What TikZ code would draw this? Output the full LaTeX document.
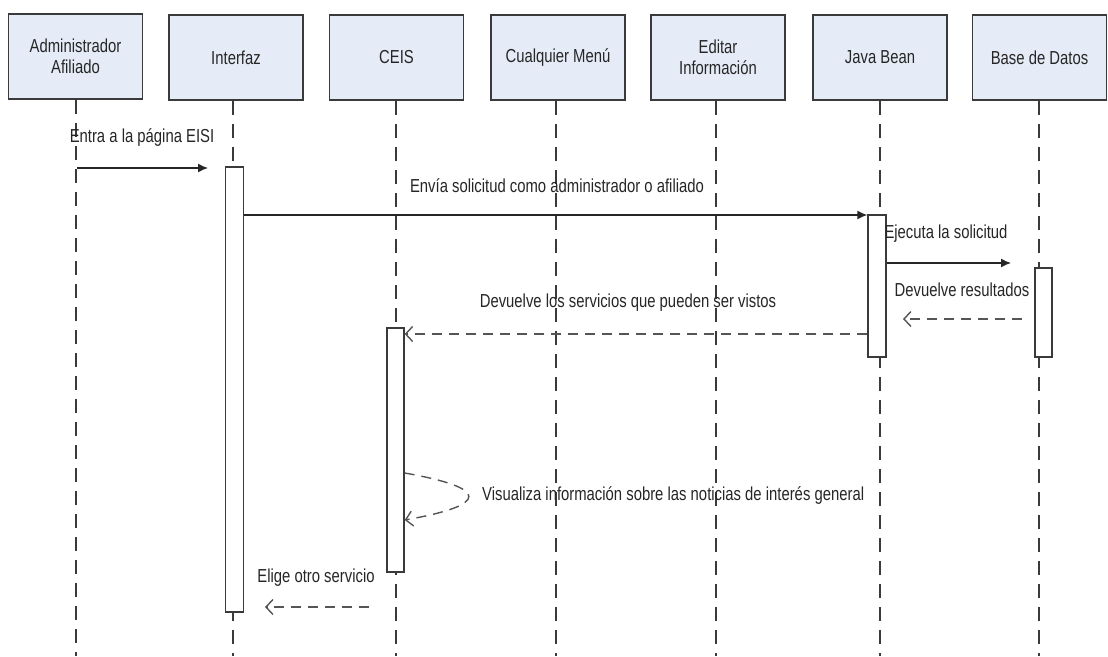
\documentclass[tikz,border=0pt]{standalone}
\usepackage{fontspec}
\setmainfont{Liberation Sans}[FakeStretch=0.79]
\usetikzlibrary{arrows.meta}
\definecolor{boxfill}{HTML}{E6ECF7}
\definecolor{boxline}{HTML}{3A3A3A}
\definecolor{txt}{HTML}{262626}
\definecolor{ret}{HTML}{555555}
\tikzset{
  head/.style={draw=boxline, line width=1.7pt, fill=boxfill, minimum width=134pt, minimum height=85pt, align=center, text=txt, inner sep=2pt, font=\fontsize{18.8}{21}\selectfont},
  life/.style={draw=boxline, line width=1.3pt, dash pattern=on 14pt off 9pt},
  actbox/.style={draw=boxline, fill=white, line width=1.3pt, minimum width=18pt, inner sep=0pt},
  lbl/.style={text=txt, inner sep=0pt, font=\fontsize{18.8}{21}\selectfont},
  callmsg/.style={draw=black!85, line width=1.4pt, -{Latex[length=10pt,width=9pt]}},
  retmsg/.style={draw=ret, line width=1.4pt, dash pattern=on 10pt off 7pt, -{Straight Barb[length=7pt,width=15pt,line width=1.4pt]}}
}
\begin{document}
\begin{tikzpicture}[x=1pt,y=-1pt]
\useasboundingbox (0,0) rectangle (1108,656);
\fill[white] (0,0) rectangle (1108,656);
% headers
\node[head] (h1) at (75.5,56.5) {Administrador\\Afiliado};
\node[head] (h2) at (236,57.5) {Interfaz};
\node[head] (h3) at (396.5,57.5) {CEIS};
\node[head] (h4) at (558,57.5) {Cualquier Menú};
\node[head] (h5) at (718,57.5) {Editar\\Información};
\node[head] (h6) at (880,57.5) {Java Bean};
\node[head] (h7) at (1039.5,57.5) {Base de Datos};
% lifeline ends
\coordinate (e1) at (76,656);
\coordinate (e2) at (233,656);
\coordinate (e3) at (396,656);
\coordinate (e4) at (556,656);
\coordinate (e5) at (716,656);
\coordinate (e6) at (880,656);
\coordinate (e7) at (1039,656);
\coordinate (s1) at (76,100);
\coordinate (s2) at (233,101);
\coordinate (s3) at (396,101);
\coordinate (s4) at (556,101);
\coordinate (s5) at (716,101);
\coordinate (s6) at (880,101);
\coordinate (s7) at (1039,101);
\foreach \i in {1,...,7} {\draw[life] (s\i) -- (e\i);}
% activation boxes
\node[actbox, minimum height=445pt] (aI) at (234.5,389.5) {};
\node[actbox, minimum height=244pt, minimum width=17pt] (aC) at (395.5,450) {};
\node[actbox, minimum height=142pt] (aJ) at (877,286) {};
\node[actbox, minimum height=89pt, minimum width=17pt] (aB) at (1043.5,312.5) {};
% messages
\coordinate (m1s) at (77,168);
\coordinate (m1e) at (208,168);
\draw[callmsg] (m1s) -- (m1e);
\node[lbl] (l1) at (142,138) {Entra a la página EISI};

\coordinate (m2s) at (aI.east |- 0,215);
\coordinate (m2e) at (aJ.west |- 0,215);
\draw[callmsg] (m2s) -- (m2e);
\node[lbl] (l2) at (557,186) {Envía solicitud como administrador o afiliado};

\coordinate (m3s) at (aJ.east |- 0,263);
\coordinate (m3e) at (1011,263);
\draw[callmsg] (m3s) -- (m3e);
\node[lbl] (l3) at (946,234) {Ejecuta la solicitud};

\coordinate (m4s) at (1022,319);
\coordinate (m4e) at (903,319);
\draw[retmsg] (m4s) -- (m4e);
\node[lbl] (l4) at (962,290) {Devuelve resultados};

\coordinate (m5s) at (aJ.west |- 0,334);
\coordinate (m5e) at (aC.east |- 0,334);
\draw[retmsg] (m5s) -- (m5e);
\node[lbl] (l5) at (628,303) {Devuelve los servicios que pueden ser vistos};

\coordinate (m6s) at (aC.east |- 0,473);
\coordinate (m6e) at (aC.east |- 0,520);
\draw[retmsg] (m6s) .. controls (490,488) and (490,505) .. (m6e);
\node[lbl, anchor=west] (l6) at (482,496) {Visualiza información sobre las noticias de interés general};

\coordinate (m7s) at (369,607);
\coordinate (m7e) at (265,607);
\draw[retmsg] (m7s) -- (m7e);
\node[lbl] (l7) at (316,578) {Elige otro servicio};
\end{tikzpicture}
\end{document}
